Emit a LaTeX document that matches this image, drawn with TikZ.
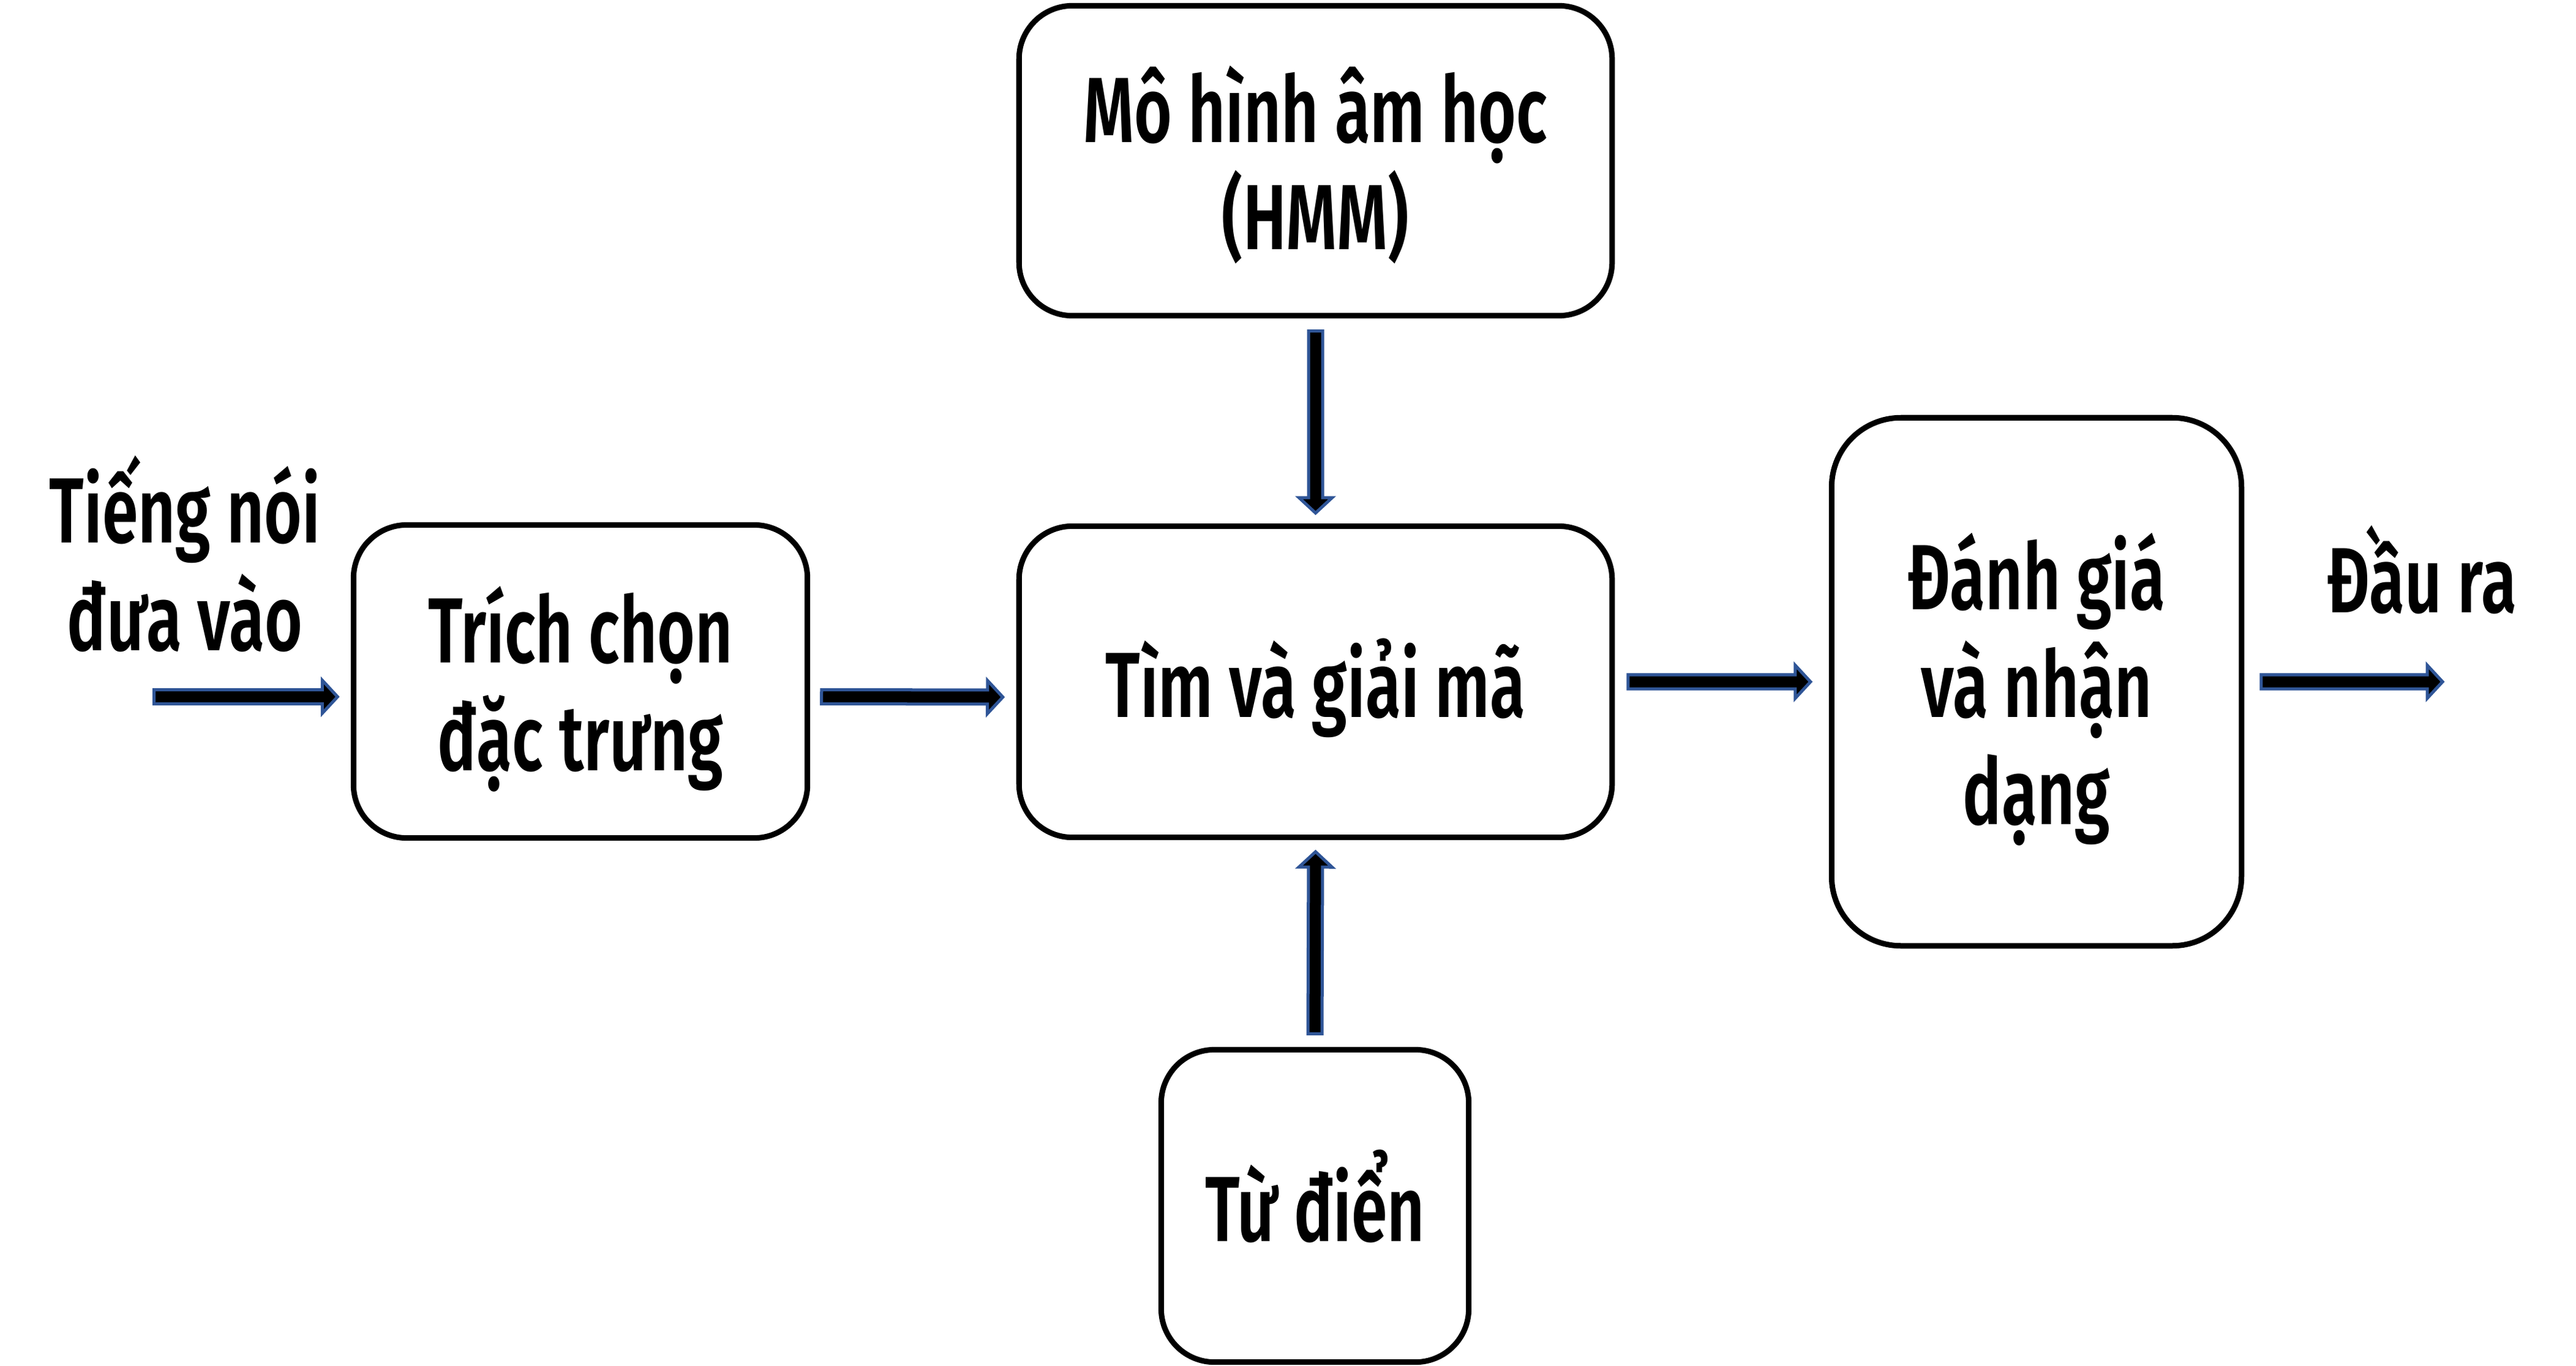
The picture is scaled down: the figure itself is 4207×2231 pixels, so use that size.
\documentclass[tikz,border=0pt]{standalone}
\usepackage{fontspec}
\setmainfont{Fira Sans}[FakeStretch=0.70, BoldFont={Fira Sans SemiBold}]
\usetikzlibrary{calc}
\definecolor{arrowblue}{HTML}{2F5597}
\newcommand{\tstrut}{\rule{0pt}{46pt}}
\newcommand{\bstrut}{\rule[-13.3pt]{0pt}{13.3pt}}
\tikzset{
  box/.style={draw=black, line width=0.09cm, fill=white, align=center,
    outer sep=0pt, inner sep=0pt, rounded corners=0.87cm,
    font=\bfseries\fontsize{43}{50}\selectfont},
  label/.style={align=center, inner sep=0pt, font=\bfseries\fontsize{43}{50}\selectfont},
  blockarrow/.style={fill=black, draw=arrowblue, line width=0.05cm, line join=miter,
    to path={let \p1=(\tikztostart), \p2=(\tikztotarget),
      \n1={atan2(\y2-\y1,\x2-\x1)} in
      ($(\p1)+({\n1+90}:0.115cm)$)
      -- ($(\p2)+({\n1+180}:0.25cm)+({\n1+90}:0.115cm)$)
      -- ($(\p2)+({\n1+180}:0.25cm)+({\n1+90}:0.27cm)$)
      -- (\p2)
      -- ($(\p2)+({\n1+180}:0.25cm)+({\n1-90}:0.27cm)$)
      -- ($(\p2)+({\n1+180}:0.25cm)+({\n1-90}:0.115cm)$)
      -- ($(\p1)+({\n1-90}:0.115cm)$) -- cycle}}
}
\begin{document}
\begin{tikzpicture}[x=0.01cm,y=-0.01cm]
\useasboundingbox (0,0) rectangle (4207,2231);
% boxes
\node[box, minimum width=9.68cm, minimum height=5.06cm] (A) at (2148.5,262.5) {\tstrut Mô hình âm học\\(HMM)\bstrut};
\node[box, minimum width=9.68cm, minimum height=5.08cm] (B) at (2148.5,1113.5) {\tstrut Tìm và giải mã\bstrut};
\node[box, minimum width=7.41cm, minimum height=5.11cm] (C) at (948,1113) {\tstrut Trích chọn\\đặc trưng\bstrut};
\node[box, minimum width=6.69cm, minimum height=8.62cm, rounded corners=1.13cm] (D) at (3326,1113.5) {\tstrut Đánh giá\\và nhận\\dạng\bstrut};
\node[box, minimum width=5.02cm, minimum height=5.10cm] (E) at (2147.5,1969.5) {\tstrut Từ điển\bstrut};
% free labels
\node[label] (inlabel) at (302,917) {\tstrut Tiếng nói\\đưa vào\bstrut};
\node[label, anchor=base] (outlabel) at (3955,1000) {Đầu ra};
% arrow end points
\coordinate (in) at (251.5,1138);
\coordinate (a1e) at ($(C.west)+(-26,25)$);
\coordinate (a2s) at ($(C.east)+(23,25)$);
\coordinate (a2e) at ($(B.west)+(-26.5,25)$);
\coordinate (a3s) at ($(B.east)+(26,0)$);
\coordinate (a3e) at ($(D.west)+(-34.5,0)$);
\coordinate (a4s) at ($(D.east)+(32,0)$);
\coordinate (out) at (3989,1113.5);
\coordinate (dns) at ($(A.south)+(0,25)$);
\coordinate (dne) at ($(B.north)+(0,-21.5)$);
\coordinate (ups) at ($(E.north)+(0,-26)$);
\coordinate (upe) at ($(B.south)+(0,23.5)$);
% arrows
\draw[blockarrow] (in) to (a1e);
\draw[blockarrow] (a2s) to (a2e);
\draw[blockarrow] (a3s) to (a3e);
\draw[blockarrow] (a4s) to (out);
\draw[blockarrow] (dns) to (dne);
\draw[blockarrow] (ups) to (upe);
\end{tikzpicture}
\end{document}
